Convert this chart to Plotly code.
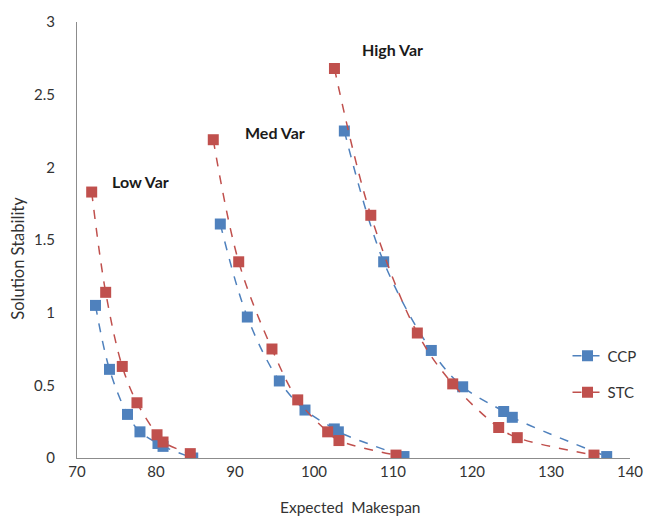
import plotly.graph_objects as go

# Expected makespan (x) and solution stability (y), per variance level
low_ccp_x = [72.34, 74.11, 76.39, 77.97, 80.25, 80.89, 84.65]
low_ccp_y = [1.05, 0.61, 0.30, 0.18, 0.10, 0.08, 0.00]
low_stc_x = [71.86, 73.63, 75.73, 77.59, 80.13, 80.89, 84.34]
low_stc_y = [1.83, 1.14, 0.63, 0.38, 0.16, 0.11, 0.03]

med_ccp_x = [88.14, 91.56, 95.61, 98.86, 102.57, 103.08, 111.39]
med_ccp_y = [1.61, 0.97, 0.53, 0.33, 0.20, 0.18, 0.01]
med_stc_x = [87.25, 90.47, 94.68, 97.94, 101.73, 103.16, 110.38]
med_stc_y = [2.19, 1.35, 0.75, 0.40, 0.18, 0.12, 0.02]

high_ccp_x = [103.84, 108.82, 114.85, 118.82, 124.01, 125.10, 137.05]
high_ccp_y = [2.25, 1.35, 0.74, 0.49, 0.32, 0.28, 0.01]
high_stc_x = [102.59, 107.19, 113.08, 117.56, 123.38, 125.73, 135.44]
high_stc_y = [2.68, 1.67, 0.86, 0.51, 0.21, 0.14, 0.02]

group_labels = ["Low Var", "Med Var", "High Var"]
label_x = [78.0, 95.1, 109.9]
label_y = [1.90, 2.24, 2.81]

x_ticks = [70, 80, 90, 100, 110, 120, 130, 140]
y_ticks = [0, 0.5, 1, 1.5, 2, 2.5, 3]
y_tick_text = ["0", "0.5", "1", "1.5", "2", "2.5", "3"]


def joined(*parts):
    out = []
    for i, p in enumerate(parts):
        if i:
            out.append(None)
        out.extend(p)
    return out


BLUE = "#4F81BD"
RED = "#C0504D"
FONT = "Lato, 'Open Sans', sans-serif"
TXT = "#333333"

fig = go.Figure()
fig.add_trace(go.Scatter(
    x=joined(low_ccp_x, med_ccp_x, high_ccp_x),
    y=joined(low_ccp_y, med_ccp_y, high_ccp_y),
    mode="lines+markers", name="CCP", legendgroup="ccp",
    line=dict(color=BLUE, width=1.5, dash="dash", shape="spline"),
    marker=dict(symbol="square", size=11, color=BLUE),
    connectgaps=False,
))
fig.add_trace(go.Scatter(
    x=joined(low_stc_x, med_stc_x, high_stc_x),
    y=joined(low_stc_y, med_stc_y, high_stc_y),
    mode="lines+markers", name="STC", legendgroup="stc",
    line=dict(color=RED, width=1.5, dash="dash", shape="spline"),
    marker=dict(symbol="square", size=11, color=RED),
    connectgaps=False,
))

for t, x, y in zip(group_labels, label_x, label_y):
    fig.add_annotation(x=x, y=y, text="<b>%s</b>" % t, showarrow=False,
                       xanchor="center", yanchor="middle",
                       font=dict(family=FONT, size=16, color="#1a1a1a"))

# axis titles
fig.add_annotation(xref="paper", yref="paper", x=0.494, y=-0.113,
                   text="Expected  Makespan", showarrow=False,
                   xanchor="center", yanchor="middle",
                   font=dict(family=FONT, size=15.5, color=TXT))
fig.add_annotation(xref="paper", yref="paper", x=-0.106, y=0.458,
                   text="Solution Stability", showarrow=False, textangle=-90,
                   xanchor="center", yanchor="middle",
                   font=dict(family=FONT, size=16.5, color=TXT))

fig.update_layout(
    width=657, height=522,
    margin=dict(l=77, r=27, t=15, b=64),
    paper_bgcolor="white", plot_bgcolor="white",
    font=dict(family=FONT, size=15, color=TXT),
    legend=dict(x=0.887, y=0.272, xanchor="left", yanchor="top",
                traceorder="grouped", tracegroupgap=14,
                font=dict(family=FONT, size=15, color=TXT),
                bgcolor="rgba(0,0,0,0)"),
    showlegend=True,
)
fig.update_xaxes(range=[70, 140], tickvals=x_ticks, showgrid=False,
                 zeroline=False, showline=True, linecolor="#8c8c8c",
                 linewidth=1, ticks="")
fig.update_yaxes(range=[0, 3], tickvals=y_ticks, ticktext=y_tick_text,
                 showgrid=False, zeroline=False, showline=True,
                 linecolor="#8c8c8c", linewidth=1, ticks="",
                 ticklabelstandoff=18)

fig.write_html("out.html")
